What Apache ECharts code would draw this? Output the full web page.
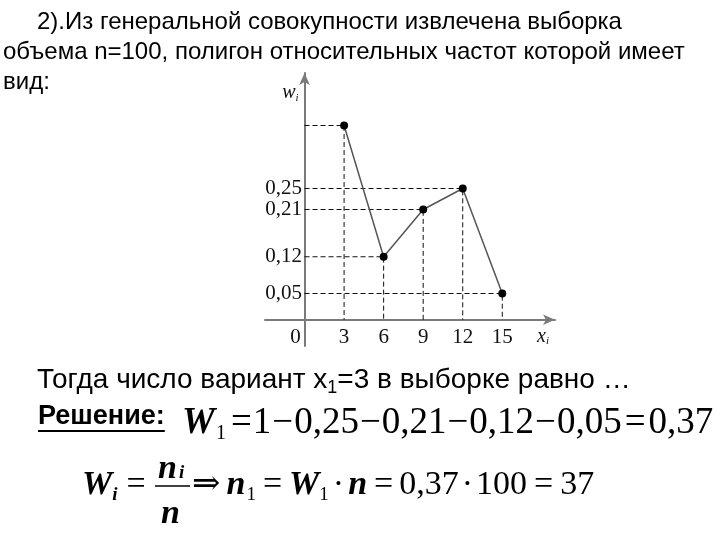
<!DOCTYPE html>
<html><head><meta charset="utf-8">
<script src="https://cdn.jsdelivr.net/npm/echarts@6/dist/echarts.min.js"></script>
<style>html,body{margin:0;padding:0;background:#fff}#c{width:720px;height:540px}</style>
</head><body><div id="c"></div>
<script>
// ---- data ----
const xValues = [3, 6, 9, 12, 15];
const wValues = [0.37, 0.12, 0.21, 0.25, 0.05];
const xTickLabels = [0, 3, 6, 9, 12, 15];
const yTickLabels = [0.05, 0.12, 0.21, 0.25];
const titleLines = [
  '2).Из генеральной совокупности извлечена выборка',
  'объема n=100, полигон относительных частот которой имеет',
  'вид:'
];

const SERIF = "'Liberation Serif','DejaVu Serif',serif";
const SANS = "'Liberation Sans','DejaVu Sans',sans-serif";
const ctx = document.createElement('canvas').getContext('2d');
function measure(t, size, family, weight, style) {
  ctx.font = (style || 'normal') + ' ' + (weight || 'normal') + ' ' + size + 'px ' + family;
  return ctx.measureText(t).width;
}
function txt(t, x, y, size, family, weight, style, align) {
  return { type: 'text', x: x, y: y, silent: true,
    style: { text: t, fontSize: size, fontFamily: family, fontWeight: weight || 'normal',
      fontStyle: style || 'normal', fill: '#000', align: align || 'left', verticalAlign: 'middle' } };
}
function layout(tokens, x, y) {
  const els = [];
  tokens.forEach(function (tk) {
    x += (tk.gap || 0);
    els.push(txt(tk.t, x, y + (tk.dy || 0), tk.size, tk.family, tk.weight, tk.style));
    x += measure(tk.t, tk.size, tk.family, tk.weight, tk.style);
  });
  return { els: els, end: x };
}

const graphics = [];
// title lines
graphics.push(txt(titleLines[0], 37, 22, 24, SANS));
graphics.push(txt(titleLines[1], 3, 52, 24, SANS));
graphics.push(txt(titleLines[2], 3, 82, 24, SANS));

// question line
const q = layout([
  { t: 'Тогда число вариант x', size: 28, family: SANS },
  { t: '1', size: 18, family: SANS, dy: 8 },
  { t: '=3 в выборке равно …', size: 28, family: SANS }
], 37, 380);
graphics.push.apply(graphics, q.els);

// Решение
const rw = measure('Решение:', 27, SANS, 'bold');
graphics.push(txt('Решение:', 38, 417, 27, SANS, 'bold'));
graphics.push({ type: 'line', silent: true, shape: { x1: 38, y1: 431, x2: 38 + rw, y2: 431 }, style: { stroke: '#000', lineWidth: 2 } });

const F1 = 37, SUB = 20;
const f1 = layout([
  { t: 'W', size: F1, family: SERIF, weight: 'bold', style: 'italic' },
  { t: '1', size: SUB, family: SERIF, dy: 11, gap: 1 },
  { t: '=', size: F1, family: SERIF, gap: 5 },
  { t: '1', size: F1, family: SERIF, gap: 1 },
  { t: '−', size: F1, family: SERIF, gap: 1 },
  { t: '0,25', size: F1, family: SERIF, gap: 1 },
  { t: '−', size: F1, family: SERIF, gap: 1 },
  { t: '0,21', size: F1, family: SERIF, gap: 1 },
  { t: '−', size: F1, family: SERIF, gap: 1 },
  { t: '0,12', size: F1, family: SERIF, gap: 1 },
  { t: '−', size: F1, family: SERIF, gap: 1 },
  { t: '0,05', size: F1, family: SERIF, gap: 1 },
  { t: '=', size: F1, family: SERIF, gap: 3 },
  { t: '0,37', size: F1, family: SERIF, gap: 3 }
], 182, 423);
graphics.push.apply(graphics, f1.els);

// second formula
const F2 = 34, SUB2 = 19;
const f2a = layout([
  { t: 'W', size: F2, family: SERIF, weight: 'bold', style: 'italic' },
  { t: 'i', size: SUB2, family: SERIF, weight: 'bold', style: 'italic', dy: 10, gap: 0 },
  { t: '=', size: F2, family: SERIF, gap: 9 }
], 82, 485);
graphics.push.apply(graphics, f2a.els);
graphics.push(txt('n', 158, 469, F2, SERIF, 'bold', 'italic'));
graphics.push(txt('i', 179, 473, SUB2, SERIF, 'bold', 'italic'));
graphics.push({ type: 'line', silent: true, shape: { x1: 155, y1: 486, x2: 190, y2: 486 }, style: { stroke: '#000', lineWidth: 1.5 } });
graphics.push(txt('n', 161, 514, F2, SERIF, 'bold', 'italic'));
const f2b = layout([
  { t: '⇒', size: F2, family: SERIF },
  { t: 'n', size: F2, family: SERIF, weight: 'bold', style: 'italic', gap: 6 },
  { t: '1', size: SUB2, family: SERIF, dy: 10, gap: 1 },
  { t: '=', size: F2, family: SERIF, gap: 7 },
  { t: 'W', size: F2, family: SERIF, weight: 'bold', style: 'italic', gap: 7 },
  { t: '1', size: SUB2, family: SERIF, dy: 10, gap: 0 },
  { t: '·', size: F2, family: SERIF, gap: 4 },
  { t: 'n', size: F2, family: SERIF, weight: 'bold', style: 'italic', gap: 4 },
  { t: '=', size: F2, family: SERIF, gap: 7 },
  { t: '0,37', size: F2, family: SERIF, gap: 6 },
  { t: '·', size: F2, family: SERIF, gap: 3 },
  { t: '100', size: F2, family: SERIF, gap: 3 },
  { t: '=', size: F2, family: SERIF, gap: 7 },
  { t: '37', size: F2, family: SERIF, gap: 7 }
], 192, 485);
graphics.push.apply(graphics, f2b.els);

// ---- chart ----
const pts = xValues.map(function (x, i) { return [x, wValues[i]]; });
const guideSeries = pts.map(function (p) {
  return { type: 'line', silent: true, symbol: 'none', z: 1, animation: false,
    data: [[0, p[1]], [p[0], p[1]], [p[0], 0]],
    lineStyle: { color: '#111', width: 1, type: [5, 3] } };
});
const fmtComma = function (v) { return v.toFixed(2).replace('.', ','); };

const chart = echarts.init(document.getElementById('c'), null, { renderer: 'canvas' });
chart.setOption({
  animation: false,
  backgroundColor: '#fff',
  grid: { left: 265, right: 165, top: 73, bottom: 194, containLabel: false },
  xAxis: {
    type: 'value', min: -3, max: 19,
    splitLine: { show: false },
    axisTick: { show: false },
    axisLine: { onZero: true, lineStyle: { color: '#7a7a7a', width: 2 }, symbol: ['none', 'arrow'], symbolSize: [8, 12] },
    axisLabel: {
      customValues: xTickLabels, margin: -19, color: '#111', fontFamily: SERIF, fontSize: 21,
      formatter: function (v) { return v === 0 ? '{o|0}' : String(v); },
      rich: { o: { fontFamily: SERIF, fontSize: 21, color: '#111', padding: [0, 18, 0, 0] } }
    },
    name: '{x|x}{i|i}', nameLocation: 'end', nameGap: -12,
    nameTextStyle: { align: 'center', verticalAlign: 'top', padding: [6, 0, 0, 0],
      rich: { x: { fontFamily: SERIF, fontStyle: 'italic', fontSize: 20, color: '#111' },
              i: { fontFamily: SERIF, fontStyle: 'italic', fontSize: 11, color: '#111', padding: [10, 0, 0, 0] } } }
  },
  yAxis: {
    type: 'value', min: -0.05, max: 0.47,
    splitLine: { show: false },
    axisTick: { show: false },
    axisLine: { onZero: true, lineStyle: { color: '#7a7a7a', width: 2 }, symbol: ['none', 'arrow'], symbolSize: [8, 12] },
    axisLabel: {
      customValues: yTickLabels, margin: -37, color: '#111', fontFamily: SERIF, fontSize: 21,
      formatter: fmtComma
    },
    name: '{w|w}{i|i}', nameLocation: 'end', nameGap: -20,
    nameTextStyle: { align: 'right', verticalAlign: 'middle', padding: [0, 6, 0, 0],
      rich: { w: { fontFamily: SERIF, fontStyle: 'italic', fontSize: 20, color: '#111' },
              i: { fontFamily: SERIF, fontStyle: 'italic', fontSize: 11, color: '#111', padding: [10, 0, 0, 0] } } }
  },
  series: guideSeries.concat([{
    type: 'line', z: 3, data: pts, symbol: 'circle', symbolSize: 8,
    itemStyle: { color: '#000' },
    lineStyle: { color: '#555', width: 1.5 }
  }]),
  graphic: graphics
});
</script>
</body></html>
